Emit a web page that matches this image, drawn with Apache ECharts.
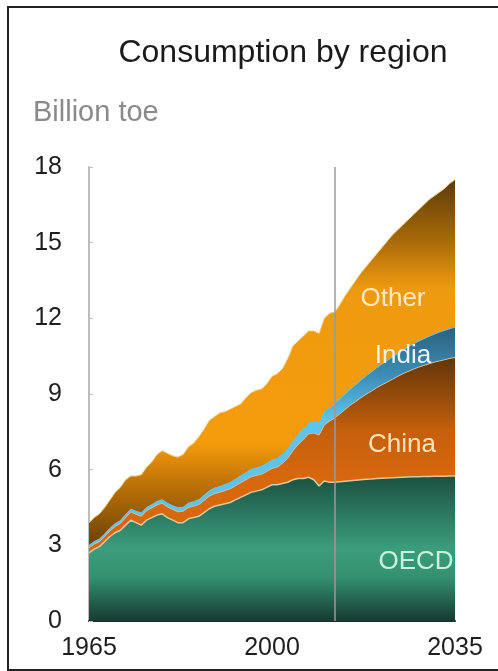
<!DOCTYPE html>
<html>
<head>
<meta charset="utf-8">
<script src="https://cdn.jsdelivr.net/npm/echarts@6/dist/echarts.min.js"></script>
<style>
html,body{margin:0;padding:0;background:#fff;}
#chart{width:498px;height:671px;}
</style>
</head>
<body>
<div id="chart"></div>
<script>
var years = ['1965','1966','1967','1968','1969','1970','1971','1972','1973','1974',
'1975','1976','1977','1978','1979','1980','1981','1982','1983','1984',
'1985','1986','1987','1988','1989','1990','1991','1992','1993','1994',
'1995','1996','1997','1998','1999','2000','2001','2002','2003','2004',
'2005','2006','2007','2008','2009','2010','2011','2012','2013','2014',
'2015','2016','2017','2018','2019','2020','2021','2022','2023','2024',
'2025','2026','2027','2028','2029','2030','2031','2032','2033','2034','2035'];

var xTickLabels = ['1965','2000','2035'];
var yTicks = [0,3,6,9,12,15,18];
var projectionStart = '2012';

var oecd = [2.7,2.85,2.95,3.15,3.35,3.5,3.6,3.8,4.0,3.9,
3.8,4.0,4.1,4.2,4.25,4.1,4.0,3.9,3.9,4.05,
4.1,4.15,4.3,4.45,4.55,4.6,4.65,4.7,4.8,4.9,
5.0,5.1,5.15,5.2,5.3,5.4,5.4,5.45,5.5,5.6,
5.65,5.65,5.7,5.6,5.35,5.55,5.5,5.5,5.52,5.54,
5.56,5.58,5.6,5.62,5.63,5.65,5.66,5.67,5.68,5.69,
5.7,5.71,5.72,5.72,5.73,5.73,5.74,5.74,5.74,5.75,5.75];

var china = [0.2,0.2,0.2,0.2,0.22,0.25,0.27,0.3,0.32,0.33,
0.35,0.37,0.38,0.4,0.42,0.42,0.42,0.43,0.45,0.45,
0.45,0.47,0.48,0.5,0.5,0.5,0.52,0.54,0.56,0.58,
0.6,0.62,0.62,0.62,0.63,0.65,0.7,0.8,0.95,1.15,
1.35,1.55,1.72,1.85,2.02,2.22,2.42,2.55,2.7,2.85,
3.0,3.12,3.25,3.37,3.48,3.6,3.7,3.8,3.9,4.0,
4.1,4.18,4.26,4.34,4.4,4.46,4.52,4.57,4.62,4.66,4.7];

var india = [0.1,0.1,0.1,0.1,0.11,0.11,0.11,0.12,0.12,0.12,
0.13,0.13,0.13,0.14,0.14,0.15,0.15,0.16,0.16,0.17,
0.18,0.19,0.2,0.21,0.22,0.23,0.24,0.25,0.26,0.27,
0.28,0.29,0.3,0.31,0.32,0.33,0.34,0.35,0.36,0.37,
0.39,0.41,0.43,0.45,0.47,0.5,0.52,0.55,0.58,0.61,
0.64,0.67,0.7,0.73,0.76,0.79,0.82,0.85,0.88,0.91,
0.94,0.97,1.0,1.03,1.06,1.09,1.11,1.14,1.16,1.18,1.2];

var other = [0.9,0.95,1.0,1.05,1.12,1.24,1.32,1.38,1.31,1.4,
1.52,1.6,1.69,1.86,1.94,1.98,1.98,2.01,2.09,2.23,
2.32,2.49,2.62,2.79,2.83,2.92,2.89,2.91,2.88,2.85,
2.97,3.04,3.08,3.07,3.15,3.32,3.36,3.4,3.59,3.78,
3.71,3.69,3.65,3.6,3.56,3.73,3.76,3.65,3.75,3.9,
4.0,4.13,4.25,4.33,4.43,4.51,4.62,4.73,4.84,4.9,
4.96,5.04,5.12,5.21,5.31,5.42,5.48,5.55,5.63,5.76,5.85];

var chart = echarts.init(document.getElementById('chart'), null, {renderer:'canvas'});
var G = echarts.graphic.LinearGradient;
var FONT = '"Liberation Sans", Arial, sans-serif';

var option = {
  animation: false,
  backgroundColor: '#ffffff',
  grid: {left: 89, right: 43, top: 167, bottom: 50, containLabel: false},
  xAxis: {
    type: 'category',
    data: years,
    boundaryGap: false,
    axisLine: {show: true, lineStyle: {color: '#2a2a2a', width: 2}},
    axisTick: {show: false},
    splitLine: {show: false},
    axisLabel: {
      interval: function (idx, val) { return xTickLabels.indexOf(val) >= 0; },
      color: '#1e1e1e', fontSize: 25, fontFamily: FONT, margin: 15
    }
  },
  yAxis: {
    type: 'value',
    min: yTicks[0], max: yTicks[yTicks.length - 1], interval: 3,
    axisLine: {show: true, lineStyle: {color: '#bdbdbd', width: 2}},
    axisTick: {show: true, inside: true, length: 4, lineStyle: {color: '#bdbdbd', width: 1}},
    splitLine: {show: false},
    axisLabel: {color: '#1e1e1e', fontSize: 25, fontFamily: FONT, margin: 27}
  },
  series: [
    {
      name: 'OECD', type: 'line', stack: 'all', data: oecd, symbol: 'none',
      lineStyle: {color: '#d9c9a0', width: 1.5},
      areaStyle: {opacity: 1, color: new G(0, 476, 0, 621, [
        {offset: 0, color: '#1b5141'},
        {offset: 0.5, color: '#3b9d7c'},
        {offset: 0.7, color: '#349070'},
        {offset: 1, color: '#163a30'}], true)},
      z: 4,
      markLine: {
        silent: true, symbol: ['none','none'], label: {show: false},
        lineStyle: {color: '#9a9a9a', width: 1.5, type: 'solid'},
        data: [{xAxis: projectionStart}]
      }
    },
    {
      name: 'China', type: 'line', stack: 'all', data: china, symbol: 'none',
      lineStyle: {color: '#d9b890', width: 1},
      areaStyle: {opacity: 1, color: new G(0, 355, 0, 480, [
        {offset: 0, color: '#5e3408'},
        {offset: 0.6, color: '#c45f0c'},
        {offset: 1, color: '#d8680e'}], true)},
      z: 3
    },
    {
      name: 'India', type: 'line', stack: 'all', data: india, symbol: 'none',
      lineStyle: {color: '#5ec4ec', width: 1},
      areaStyle: {opacity: 1, color: new G(0, 325, 0, 420, [
        {offset: 0, color: '#2a5f7c'},
        {offset: 0.55, color: '#3e8fb8'},
        {offset: 1, color: '#5ec4ec'}], true)},
      z: 2
    },
    {
      name: 'Other', type: 'line', stack: 'all', data: other, symbol: 'none',
      lineStyle: {color: '#f3d08a', width: 1},
      areaStyle: {opacity: 1, color: new G(0, 178, 0, 545, [
        {offset: 0, color: '#5b3a08'},
        {offset: 0.17, color: '#a86a0a'},
        {offset: 0.3, color: '#ee9a10'},
        {offset: 0.72, color: '#f59c0c'},
        {offset: 0.83, color: '#c07408'},
        {offset: 1, color: '#6b4206'}], true)},
      z: 1
    }
  ],
  graphic: [
    {type: 'rect', shape: {x: 8, y: 7, width: 500, height: 663}, style: {fill: 'none', stroke: '#222', lineWidth: 2}, silent: true},
    {type: 'text', x: 283, y: 53, style: {text: 'Consumption by region', fill: '#1a1a1a', font: '32px ' + FONT, textAlign: 'center', textVerticalAlign: 'middle'}},
    {type: 'text', x: 33, y: 113, style: {text: 'Billion toe', fill: '#8a8a8a', font: '29px ' + FONT, textAlign: 'left', textVerticalAlign: 'middle'}},
    {type: 'text', x: 393, y: 299, z: 100, style: {text: 'Other', fill: '#fde9c0', font: '26px ' + FONT, textAlign: 'center', textVerticalAlign: 'middle'}},
    {type: 'text', x: 403, y: 356, z: 100, style: {text: 'India', fill: '#eaf4f6', font: '26px ' + FONT, textAlign: 'center', textVerticalAlign: 'middle'}},
    {type: 'text', x: 402, y: 445, z: 100, style: {text: 'China', fill: '#fbe3b8', font: '26px ' + FONT, textAlign: 'center', textVerticalAlign: 'middle'}},
    {type: 'text', x: 416, y: 562, z: 100, style: {text: 'OECD', fill: '#c8f2de', font: '26px ' + FONT, textAlign: 'center', textVerticalAlign: 'middle'}}
  ]
};
chart.setOption(option);
</script>
</body>
</html>
